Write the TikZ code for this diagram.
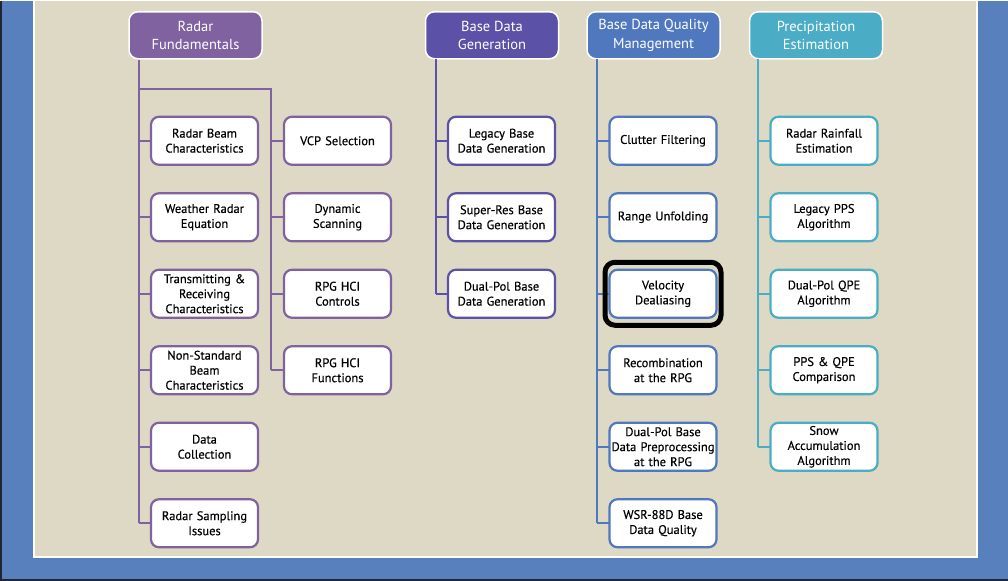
\documentclass[tikz,border=0pt]{standalone}
\usepackage{fontspec}
\setsansfont{PT Sans}
\usepackage{xcolor}
\usepackage{tikz}
\usetikzlibrary{positioning, fit, calc}
\definecolor{PageBlue}{RGB}{88,128,188}
\definecolor{EdgeDark}{RGB}{30,38,52}
\definecolor{PanelBeige}{RGB}{221,217,196}
\definecolor{RadarPurple}{RGB}{128,98,160}
\definecolor{BaseIndigo}{RGB}{91,81,166}
\definecolor{QualityBlue}{RGB}{79,120,190}
\definecolor{PrecipTeal}{RGB}{75,172,198}

\begin{document}
\begin{tikzpicture}[
  x=1pt, y=-1pt,
  font=\sffamily,
  every node/.style={align=center},
  header/.style={
    rectangle, rounded corners=9pt, draw=white, line width=1.5pt,
    text=white, minimum width=133pt, minimum height=47pt, inner sep=1pt,
    font=\sffamily\fontsize{14.5}{18.5}\selectfont
  },
  topic/.style={
    rectangle, rounded corners=8pt, fill=white, line width=2.2pt,
    text width=107pt, inner xsep=0pt, inner ysep=1pt, outer sep=0pt,
    minimum height=48pt,
    font=\sffamily\fontsize{12.5}{15}\selectfont\addfontfeature{FakeBold=0.4}
  },
  link/.style={line width=2.2pt},
  focus/.style={rectangle, rounded corners=10pt, draw=black, line width=5pt}
]
% ================ background and panel ================
\fill[PageBlue] (0,0) rectangle (1008,580);
\fill[EdgeDark] (0,0) rectangle (2,580);
\fill[EdgeDark] (0,578) rectangle (1008,580);
\filldraw[fill=PanelBeige, draw=white, line width=1.5pt] (34,0) rectangle (977,556);
\useasboundingbox (0,0) rectangle (1008,580);

% ================ headers ================
\node[header, fill=RadarPurple] (hdRF) at (195.5,34.5) {Radar\\Fundamentals};
\node[header, fill=BaseIndigo] (hdBDG) at (492,34.5) {Base Data\\Generation};
\node[header, fill=QualityBlue] (hdBDQ) at (653.5,34.5) {Base Data Quality\\Management};
\node[header, fill=PrecipTeal] (hdPE) at (816,34.5) {Precipitation\\Estimation};

% ================ Radar Fundamentals ================
\node[topic, draw=RadarPurple] (rfBeam) at (204.5,140) {Radar Beam\\Characteristics};
\node[topic, draw=RadarPurple, below=28.5pt of rfBeam] (rfEquation) {Weather Radar\\Equation};
\node[topic, draw=RadarPurple, below=28.5pt of rfEquation] (rfTransmit) {Transmitting \&\\Receiving\\Characteristics};
\node[topic, draw=RadarPurple, below=28.5pt of rfTransmit] (rfNonStd) {Non-Standard\\Beam\\Characteristics};
\node[topic, draw=RadarPurple, below=28.5pt of rfNonStd] (rfCollect) {Data\\Collection};
\node[topic, draw=RadarPurple, below=28.5pt of rfCollect] (rfSampling) {Radar Sampling\\Issues};

\node[topic, draw=RadarPurple] (rfVCP) at (337.5,140) {VCP Selection};
\node[topic, draw=RadarPurple, below=28.5pt of rfVCP] (rfDynamic) {Dynamic\\Scanning};
\node[topic, draw=RadarPurple, below=28.5pt of rfDynamic] (rfControls) {RPG HCI\\Controls};
\node[topic, draw=RadarPurple, below=28.5pt of rfControls] (rfFunctions) {RPG HCI\\Functions};

\coordinate (rfSpine) at (139,88);
\coordinate (rfSplit) at (271,88);
\draw[link, draw=RadarPurple] (hdRF.south -| rfSpine) -- (rfSpine |- rfSampling.west);
\draw[link, draw=RadarPurple] (rfSpine) -- (rfSplit) -- (rfSplit |- rfFunctions.west);
\foreach \n in {rfBeam, rfEquation, rfTransmit, rfNonStd, rfCollect, rfSampling}
  \draw[link, draw=RadarPurple] (rfSpine |- \n.west) -- (\n.west);
\foreach \n in {rfVCP, rfDynamic, rfControls, rfFunctions}
  \draw[link, draw=RadarPurple] (rfSplit |- \n.west) -- (\n.west);

% ================ Base Data Generation ================
\node[topic, draw=BaseIndigo] (bgLegacy) at (501.5,140) {Legacy Base\\Data Generation};
\node[topic, draw=BaseIndigo, below=28.5pt of bgLegacy] (bgSuperRes) {Super-Res Base\\Data Generation};
\node[topic, draw=BaseIndigo, below=28.5pt of bgSuperRes] (bgDualPol) {Dual-Pol Base\\Data Generation};

\coordinate (bgSpine) at (436,58);
\draw[link, draw=BaseIndigo] (bgSpine) -- (bgSpine |- bgDualPol.west);
\foreach \n in {bgLegacy, bgSuperRes, bgDualPol}
  \draw[link, draw=BaseIndigo] (bgSpine |- \n.west) -- (\n.west);

% ================ Base Data Quality Management ================
\node[topic, draw=QualityBlue] (bqClutter) at (663,140) {Clutter Filtering};
\node[topic, draw=QualityBlue, below=28.5pt of bqClutter] (bqRange) {Range Unfolding};
\node[topic, draw=QualityBlue, below=28.5pt of bqRange] (bqVelocity) {Velocity\\Dealiasing};
\node[topic, draw=QualityBlue, below=28.5pt of bqVelocity] (bqRecomb) {Recombination\\at the RPG};
\node[topic, draw=QualityBlue, below=28.5pt of bqRecomb] (bqPreproc) {Dual-Pol Base\\Data Preprocessing\\at the RPG};
\node[topic, draw=QualityBlue, below=28.5pt of bqPreproc] (bqWSR) {WSR-88D Base\\Data Quality};

\coordinate (bqSpine) at (597,58);
\draw[link, draw=QualityBlue] (bqSpine) -- (bqSpine |- bqWSR.west);
\foreach \n in {bqClutter, bqRange, bqVelocity, bqRecomb, bqPreproc, bqWSR}
  \draw[link, draw=QualityBlue] (bqSpine |- \n.west) -- (\n.west);

% highlighted topic
\node[focus, fit=(bqVelocity), inner xsep=4.5pt, inner ysep=7.5pt] (bqFocus) {};

% ================ Precipitation Estimation ================
\node[topic, draw=PrecipTeal] (peRainfall) at (824,140) {Radar Rainfall\\Estimation};
\node[topic, draw=PrecipTeal, below=28.5pt of peRainfall] (peLegacy) {Legacy PPS\\Algorithm};
\node[topic, draw=PrecipTeal, below=28.5pt of peLegacy] (peDualPol) {Dual-Pol QPE\\Algorithm};
\node[topic, draw=PrecipTeal, below=28.5pt of peDualPol] (peCompare) {PPS \& QPE\\Comparison};
\node[topic, draw=PrecipTeal, below=28.5pt of peCompare] (peSnow) {Snow\\Accumulation\\Algorithm};

\coordinate (peSpine) at (758,58);
\draw[link, draw=PrecipTeal] (peSpine) -- (peSpine |- peSnow.west);
\foreach \n in {peRainfall, peLegacy, peDualPol, peCompare, peSnow}
  \draw[link, draw=PrecipTeal] (peSpine |- \n.west) -- (\n.west);
\end{tikzpicture}
\end{document}
